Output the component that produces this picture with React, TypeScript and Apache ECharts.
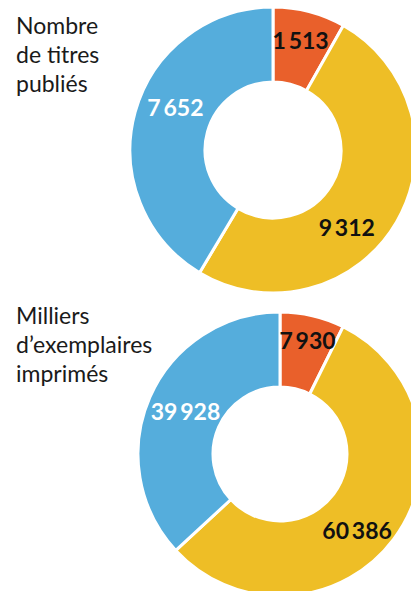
import React, { useEffect, useRef } from "react";
import * as echarts from "echarts";

// Data
const categories = ["Orange", "Jaune", "Bleu"];
const titresValues = [1513, 9312, 7652];
const exemplairesValues = [7930, 60386, 39928];
const chartTitles = ["Nombre\nde titres\npubliés", "Milliers\nd’exemplaires\nimprimés"];

// Styling
const COLORS = ["#E9602B", "#EEBE26", "#55ADDC"];
const LABEL_COLORS = ["#111111", "#111111", "#FFFFFF"];
const LABEL_SHIFT = [
  [[0, -5], [-20, 22], [7, -14]],
  [[3, -9], [-9, 12], [4, 0]],
];

const fmt = (v: number) => String(v).replace(/\B(?=(\d{3})+(?!\d))/g, "\u2009");

export default function App() {
  const ref = useRef<HTMLDivElement>(null);
  useEffect(() => {
    if (!ref.current) return;
    const chart = echarts.init(ref.current, null, { renderer: "svg" });
    const mk = (values: number[], center: number[], radius: number[], idx: number) => ({
      type: "pie",
      center,
      radius,
      startAngle: 90,
      clockwise: true,
      avoidLabelOverlap: false,
      silent: true,
      itemStyle: { borderColor: "#ffffff", borderWidth: 3 },
      label: {
        show: true,
        position: "inside",
        formatter: (p: any) => fmt(p.value),
        fontFamily: "Lato",
        fontWeight: "bold",
        fontSize: 23,
      },
      labelLine: { show: false },
      labelLayout: (p: any) => {
        const s = LABEL_SHIFT[idx][p.dataIndex];
        return { dx: s[0], dy: s[1] };
      },
      data: values.map((v, i) => ({
        name: categories[i],
        value: v,
        itemStyle: { color: COLORS[i] },
        label: { color: LABEL_COLORS[i] },
      })),
    });
    chart.setOption({
      animation: false,
      title: [
        {
          text: chartTitles[0],
          left: 16,
          top: 10,
          padding: 0,
          textStyle: { fontFamily: "Lato", fontWeight: "normal", fontSize: 23, lineHeight: 29, color: "#1a1a1a" },
        },
        {
          text: chartTitles[1],
          left: 16,
          top: 300,
          padding: 0,
          textStyle: { fontFamily: "Lato", fontWeight: "normal", fontSize: 23, lineHeight: 29, color: "#1a1a1a" },
        },
      ],
      series: [
        mk(titresValues, [273, 150], [68, 143], 0),
        mk(exemplairesValues, [280, 454], [67, 142], 1),
      ],
    });
    return () => chart.dispose();
  }, []);
  return (
    <div
      ref={ref}
      style={{ position: "fixed", left: 0, top: 0, width: 411, height: 591, background: "#fff" }}
    />
  );
}
